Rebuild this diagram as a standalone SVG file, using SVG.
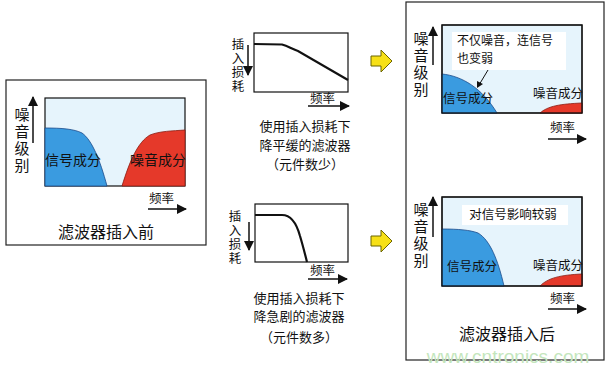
<svg xmlns="http://www.w3.org/2000/svg" width="610" height="367" viewBox="0 0 610 367">
<defs>
<style>
text{font-family:"Noto Sans CJK SC","Liberation Sans",sans-serif;fill:#111}
text.wm{font-family:"Liberation Sans",Arial,sans-serif;font-size:19px;fill:#c4e6bd;text-anchor:middle}
.frame{fill:#fff;stroke:#222;stroke-width:1.2}
.plot{fill:#e6f4fc;stroke:#111;stroke-width:1.2}
.plotw{fill:#fff;stroke:#111;stroke-width:1.2}
.sig{fill:#3a9be0;stroke:#1a4a8a;stroke-width:0.8}
.noise{fill:#e5392a;stroke:#8a1a10;stroke-width:0.8}
.ax{stroke:#111;stroke-width:1.5;fill:none}
.curve{stroke:#111;stroke-width:2.2;fill:none}
.yel{fill:#f7e017;stroke:#6b6400;stroke-width:1}
.lab{font-size:14px}
.lab2{font-size:12.5px}
.note{font-size:12px}
.vt{font-size:15px;writing-mode:vertical-rl;letter-spacing:2px}
.vs{font-size:12.5px;writing-mode:vertical-rl;letter-spacing:1.5px}
.fq{font-size:12.5px}
.cap{font-size:13px;text-anchor:middle}
.ttl{font-size:16px;text-anchor:middle}
</style>
<marker id="ah" viewBox="0 0 10 10" refX="9" refY="5" markerWidth="10" markerHeight="10" markerUnits="userSpaceOnUse" orient="auto">
<path d="M0,0 L10,5 L0,10 z" fill="#111"/>
</marker>
</defs>

<g id="before">
<rect class="frame" x="6" y="80" width="200" height="165"/>
<rect class="plot" x="45" y="98" width="140" height="88"/>
<path class="sig" d="M45,186 L45,128 C62,128 74,129 82,133 C92,140 100,160 107,186 Z"/>
<path class="noise" d="M122,186 C130,160 138,142 150,135 C160,131 172,131 185,130 L185,186 Z"/>
<text class="lab" x="45" y="165">信号成分</text>
<text class="lab" x="130" y="165">噪音成分</text>
<line class="ax" x1="33" y1="143" x2="33" y2="97" marker-end="url(#ah)"/>
<text class="vt" x="22" y="107">噪音级别</text>
<text class="fq" x="149" y="203">频率</text>
<line class="ax" x1="148" y1="209" x2="186" y2="209" marker-end="url(#ah)"/>
<text class="ttl" x="106" y="238">滤波器插入前</text>
</g>

<g id="gentle">
<rect class="plotw" x="254" y="33" width="94" height="59"/>
<path class="curve" d="M254,44 L282,44.5 C288,46 292,49 298,51 L348,80"/>
<line class="ax" x1="248" y1="45" x2="248" y2="75" marker-end="url(#ah)"/>
<text class="vs" x="238" y="38">插入损耗</text>
<text class="fq" x="310" y="103">频率</text>
<line class="ax" x1="308" y1="106" x2="349" y2="106" marker-end="url(#ah)"/>
<text class="cap" x="305" y="131">使用插入损耗下</text>
<text class="cap" x="305" y="150">降平缓的滤波器</text>
<text class="cap" x="305" y="169">（元件数少）</text>
</g>

<g id="steep">
<rect class="plotw" x="255" y="204" width="93" height="58"/>
<path class="curve" d="M255,215 L282,215 C292,215 297,225 300,236 C303,246 305,254 307,262"/>
<line class="ax" x1="249" y1="222" x2="249" y2="250" marker-end="url(#ah)"/>
<text class="vs" x="235" y="210">插入损耗</text>
<text class="fq" x="310" y="275">频率</text>
<line class="ax" x1="308" y1="279" x2="347" y2="279" marker-end="url(#ah)"/>
<text class="cap" x="299" y="303">使用插入损耗下</text>
<text class="cap" x="299" y="321">降急剧的滤波器</text>
<text class="cap" x="299" y="342">（元件数多）</text>
</g>

<g id="arrow1">
<path class="yel" d="M371,56 L381,56 L381,50 L392,61 L381,72 L381,66 L371,66 Z"/>
</g>
<g id="arrow2">
<path class="yel" d="M371,236 L381,236 L381,230 L392,241 L381,252 L381,246 L371,246 Z"/>
</g>

<g id="after">
<rect class="frame" x="406" y="2" width="198" height="358"/>

<rect class="plot" x="442" y="25" width="140" height="88"/>
<rect x="452" y="32" width="114" height="38" fill="#fff"/>
<path class="sig" d="M442,113 L442,74 C462,76 482,88 497,113 Z"/>
<path class="noise" d="M540,113 C548,106 560,104 582,103 L582,113 Z"/>
<rect x="442" y="25" width="140" height="88" fill="none" stroke="#111" stroke-width="1.2"/>
<text class="note"><tspan x="457" y="45">不仅噪音，连信号</tspan><tspan x="457" y="62.8">也变弱</tspan></text>
<line x1="488" y1="70" x2="479" y2="85" stroke="#111" stroke-width="1"/>
<path d="M477,88 L477,81 L483,84 Z" fill="#111"/>
<text class="lab2" x="443" y="103">信号成分</text>
<text class="lab2" x="533" y="98">噪音成分</text>
<line class="ax" x1="433" y1="65" x2="433" y2="27" marker-end="url(#ah)"/>
<text class="vt" x="421" y="31">噪音级别</text>
<text class="fq" x="550" y="132">频率</text>
<line class="ax" x1="548" y1="139" x2="586" y2="139" marker-end="url(#ah)"/>

<rect class="plot" x="442" y="197" width="140" height="89"/>
<rect x="462" y="205" width="106" height="20" fill="#fff"/>
<path class="sig" d="M442,286 L442,229 C458,229 470,230 478,233 C490,240 498,260 504,286 Z"/>
<path class="noise" d="M540,286 C548,278 560,275 582,274 L582,286 Z"/>
<rect x="442" y="197" width="140" height="89" fill="none" stroke="#111" stroke-width="1.2"/>
<text class="lab2" x="513" y="219" text-anchor="middle">对信号影响较弱</text>
<text class="lab2" x="447" y="271">信号成分</text>
<text class="lab2" x="533" y="270">噪音成分</text>
<line class="ax" x1="433" y1="237" x2="433" y2="197" marker-end="url(#ah)"/>
<text class="vt" x="421" y="202">噪音级别</text>
<text class="fq" x="550" y="303">频率</text>
<line class="ax" x1="548" y1="309" x2="586" y2="309" marker-end="url(#ah)"/>
<text class="ttl" x="507" y="340">滤波器插入后</text>
<text class="wm" x="508" y="363">www.cntronics.com</text>
</g>
</svg>
